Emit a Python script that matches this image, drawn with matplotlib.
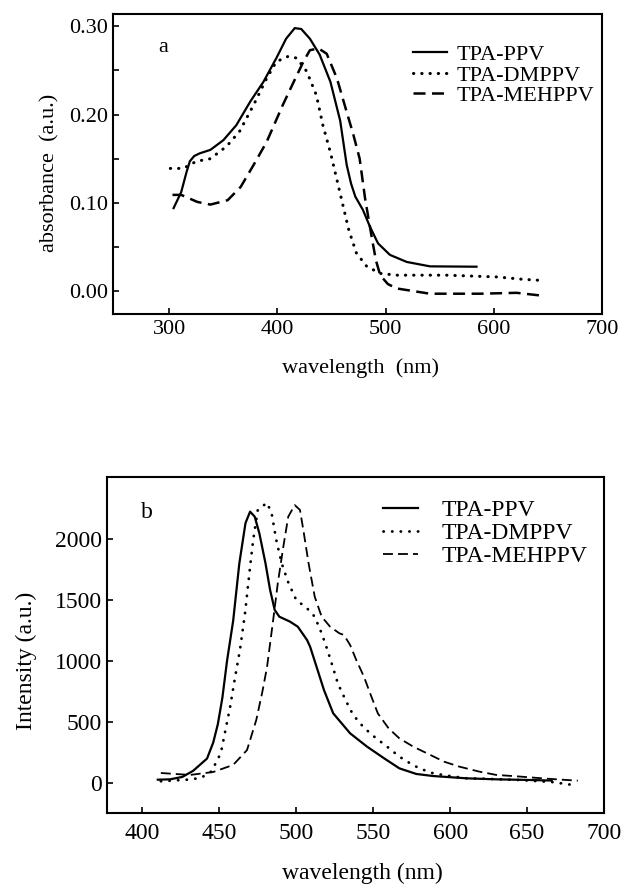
import matplotlib
matplotlib.use('Agg')
import matplotlib.pyplot as plt
from matplotlib.ticker import MultipleLocator, FormatStrFormatter

plt.rcParams['font.family'] = ['Liberation Serif', 'DejaVu Serif']

# ---- panel a: absorbance ----
abs_ppv_x = [304, 311, 316, 319, 323, 328, 338, 350, 362, 375, 387, 399, 408, 416, 422, 430,
             439, 449, 458, 464, 468, 472, 479, 485.5, 493, 504, 519.5, 541, 584]
abs_ppv_y = [0.094, 0.112, 0.135, 0.147, 0.153, 0.156, 0.160, 0.171, 0.188, 0.215, 0.237, 0.264,
             0.286, 0.298, 0.297, 0.286, 0.268, 0.237, 0.193, 0.143, 0.122, 0.107, 0.092, 0.073,
             0.054, 0.041, 0.033, 0.028, 0.0276]

abs_dm_x = [301, 313, 325, 338, 353, 365, 378, 390, 399, 410, 418, 427, 436, 442, 449, 455,
            460, 466, 473, 482.5, 495, 510, 556, 603, 627, 645]
abs_dm_y = [0.139, 0.139, 0.147, 0.150, 0.164, 0.181, 0.211, 0.241, 0.260, 0.266, 0.264, 0.249,
            0.222, 0.188, 0.157, 0.126, 0.100, 0.069, 0.043, 0.028, 0.020, 0.018, 0.018, 0.016,
            0.0133, 0.012]

abs_meh_x = [303, 311, 326, 338, 354, 366, 378, 390, 405, 415, 424, 430, 438, 445.5, 455, 464,
             470, 476, 481, 487, 491, 495, 502, 510, 541, 587, 621, 643]
abs_meh_y = [0.109, 0.109, 0.101, 0.098, 0.103, 0.118, 0.143, 0.169, 0.211, 0.237, 0.260, 0.273,
             0.275, 0.269, 0.241, 0.203, 0.178, 0.150, 0.105, 0.062, 0.035, 0.018, 0.008, 0.003,
             -0.003, -0.003, -0.002, -0.005]

# ---- panel b: PL intensity ----
pl_ppv_x = [410, 418, 426, 433, 442, 446, 449, 452, 455, 459, 463, 467, 470, 473, 476, 480,
            483, 486, 489, 496, 501, 507, 509, 513, 518, 524, 535, 546, 557, 567, 578, 589,
            611, 630, 650, 666]
pl_ppv_y = [27, 30, 50, 100, 200, 330, 480, 700, 1000, 1330, 1800, 2130, 2224, 2183, 2047, 1801,
            1582, 1418, 1363, 1322, 1281, 1172, 1117, 960, 762, 571, 407, 298, 203, 120, 74, 57,
            38, 30, 25, 20]

pl_dm_x = [412, 420, 429, 438, 445, 451, 457, 460, 463.4, 466.7, 470, 472, 475, 481, 484, 487,
           490.5, 495, 500, 507, 512, 516.5, 520, 523, 527, 532, 537, 542.5, 548, 552, 559, 567,
           574, 580, 589, 600, 611, 622, 644, 666, 679]
pl_dm_y = [14, 20, 27, 41, 96, 246, 623, 850, 1090, 1391, 1773, 1992, 2238, 2297, 2210, 1992,
           1801, 1637, 1500, 1432, 1363, 1227, 1100, 981, 817, 680, 557, 475, 407, 366, 298, 216,
           161, 120, 79, 57, 38, 35, 25, 8, -15]

pl_meh_x = [412, 420, 431, 446, 459, 468, 474, 478, 481, 485, 488, 491.6, 494.8, 499, 502.4,
            504.6, 508, 512, 516.5, 522, 528, 531, 535, 539, 544, 548, 553, 560, 567, 576, 585,
            596, 606, 619, 630, 643, 656, 669, 683]
pl_meh_y = [82, 75, 66, 90, 148, 270, 516, 750, 950, 1336, 1637, 1937, 2183, 2278, 2238, 2074,
            1801, 1527, 1363, 1281, 1227, 1213, 1131, 1008, 871, 735, 571, 448, 366, 298, 243,
            175, 134, 93, 66, 55, 42, 30, 19]

labels = ['TPA-PPV', 'TPA-DMPPV', 'TPA-MEHPPV']

W, H = 621, 886
fig = plt.figure(figsize=(W / 100, H / 100), dpi=100)


def px(x, y):
    return x / W, 1 - y / H


def style_axes(ax, fs, xpad):
    for s in ax.spines.values():
        s.set_linewidth(1.5)
    ax.tick_params(which='both', direction='in', length=4, width=1.2,
                   labelsize=fs, top=False, right=False)
    ax.tick_params(axis='y', pad=3.5)
    ax.tick_params(axis='x', pad=xpad)


# panel a
ax1 = fig.add_axes([113 / W, 1 - 314 / H, 489 / W, 300 / H])
ax1.plot(abs_ppv_x, abs_ppv_y, color='black', lw=1.6, label=labels[0])
ax1.plot(abs_dm_x, abs_dm_y, color='black', lw=2.2, linestyle=(0, (0.1, 2.6)),
         dash_capstyle='round', label=labels[1])
ax1.plot(abs_meh_x, abs_meh_y, color='black', lw=1.8, linestyle=(0, (4.8, 2.6)), label=labels[2])
ax1.set_xlim(248, 700)
ax1.set_ylim(-0.026, 0.314)
ax1.set_xticks([300, 400, 500, 600, 700])
ax1.yaxis.set_major_locator(MultipleLocator(0.1))
ax1.yaxis.set_minor_locator(MultipleLocator(0.05))
ax1.yaxis.set_major_formatter(FormatStrFormatter('%.2f'))
style_axes(ax1, 16, 4)
ax1.legend(loc='upper left', bbox_to_anchor=(0.613, 0.898), frameon=False, fontsize=16,
           handlelength=1.55, handletextpad=0.4, labelspacing=0.0, borderpad=0, borderaxespad=0)
fig.text(*px(163, 47), 'a', ha='center', va='center', fontsize=16)
fig.text(*px(50, 173), 'absorbance  (a.u.)', rotation=90, ha='center', va='center', fontsize=16)
fig.text(*px(361, 368), 'wavelength  (nm)', ha='center', va='center', fontsize=16)

# panel b
ax2 = fig.add_axes([107 / W, 1 - 813 / H, 497 / W, 336 / H])
ax2.plot(pl_ppv_x, pl_ppv_y, color='black', lw=1.6, label=labels[0])
ax2.plot(pl_dm_x, pl_dm_y, color='black', lw=2.0, linestyle=(0, (0.1, 3.0)),
         dash_capstyle='round', label=labels[1])
ax2.plot(pl_meh_x, pl_meh_y, color='black', lw=1.3, linestyle=(0, (5.5, 2.8)), label=labels[2])
ax2.set_xlim(377, 700)
ax2.set_ylim(-246, 2508)
ax2.xaxis.set_major_locator(MultipleLocator(50))
ax2.set_yticks([0, 500, 1000, 1500, 2000])
style_axes(ax2, 17, 7)
ax2.legend(loc='upper left', bbox_to_anchor=(0.555, 0.932), frameon=False, fontsize=17,
           handlelength=1.48, handletextpad=1.0, labelspacing=0.06, borderpad=0, borderaxespad=0)
fig.text(*px(147, 513), 'b', ha='center', va='center', fontsize=17)
fig.text(*px(26, 661), 'Intensity (a.u.)', rotation=90, ha='center', va='center', fontsize=17)
fig.text(*px(362, 873), 'wavelength (nm)', ha='center', va='center', fontsize=17)

fig.savefig('out.png', dpi=100, facecolor='white')
